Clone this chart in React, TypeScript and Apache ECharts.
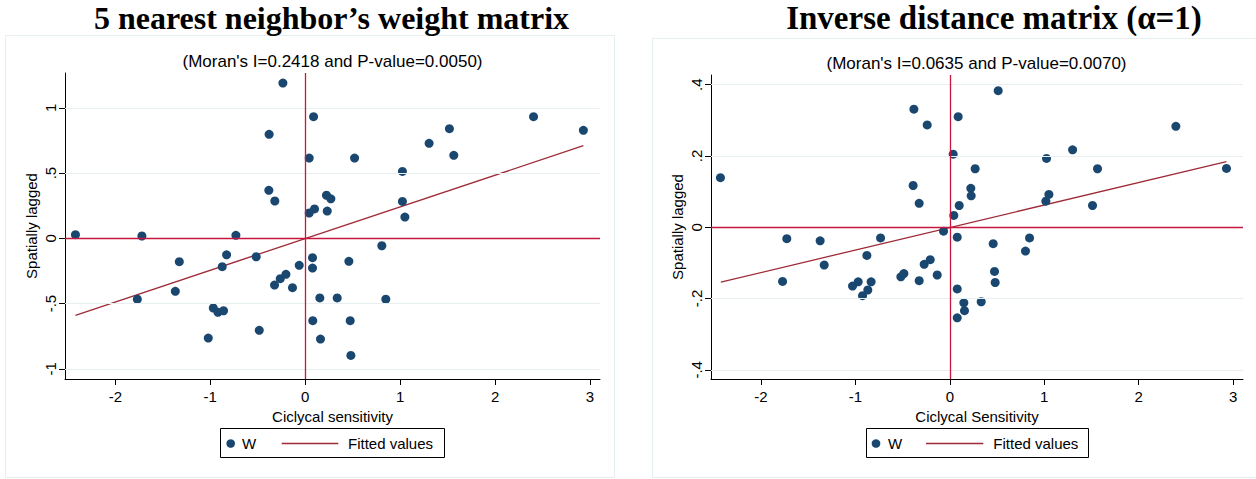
import React, { useEffect, useRef } from "react";
import * as echarts from "echarts";

// ---- data: 5 nearest neighbour weight matrix ----
const knnX = [-2.42, -1.72, -0.73, -0.38, -0.235, -0.383, -0.32, 0.042, 0.088, 0.042, 0.098, 0.52, 1.024, 1.305, 1.519, 1.565, 2.405, 2.93, 1.024, 1.05, 0.224, 0.27, 0.232, 0.807, -1.768, -1.326, -1.368, -0.828, -0.874, -0.968, -0.919, -0.86, -1.021, -0.516, -0.484, -0.323, -0.263, -0.203, -0.134, -0.063, 0.077, 0.077, 0.154, 0.337, 0.849, 0.08, 0.474, 0.161, 0.481, 0.46];
const knnY = [0.028, 0.018, 0.023, 0.797, 1.19, 0.368, 0.286, 0.615, 0.932, 0.194, 0.225, 0.615, 0.513, 0.728, 0.84, 0.636, 0.932, 0.828, 0.283, 0.163, 0.33, 0.303, 0.209, -0.057, -0.467, -0.179, -0.406, -0.126, -0.217, -0.534, -0.567, -0.555, -0.764, -0.141, -0.705, -0.358, -0.309, -0.276, -0.378, -0.207, -0.148, -0.228, -0.457, -0.457, -0.467, -0.631, -0.631, -0.772, -0.897, -0.176];
const knnFitX = [-2.42, 2.93];
const knnFitY = [-0.59, 0.71];

// ---- data: inverse distance matrix ----
const invX = [-2.43, -1.727, -1.374, -0.734, -0.381, -0.24, -0.389, -0.325, -0.067, 0.512, 0.088, 0.035, 0.268, 0.222, 0.226, 0.099, 0.042, 0.078, 1.024, 1.3, 1.564, 1.049, 1.017, 1.511, 2.394, 2.93, 0.459, 0.844, -1.772, -1.331, -0.879, -1.031, -0.971, -0.925, -0.869, -0.834, -0.519, -0.487, -0.325, -0.272, -0.208, -0.134, 0.801, 0.473, 0.48, 0.078, 0.148, 0.332, 0.155, 0.078];
const invY = [0.139, -0.032, -0.038, -0.03, 0.331, 0.287, 0.117, 0.067, -0.011, 0.383, 0.31, 0.205, 0.164, 0.109, 0.088, 0.061, 0.033, -0.028, 0.193, 0.217, 0.164, 0.092, 0.073, 0.061, 0.283, 0.165, -0.046, -0.03, -0.152, -0.106, -0.079, -0.165, -0.153, -0.192, -0.176, -0.153, -0.139, -0.13, -0.15, -0.104, -0.091, -0.134, -0.067, -0.124, -0.155, -0.173, -0.212, -0.209, -0.234, -0.254];
const invFitX = [-2.426, 2.93];
const invFitY = [-0.154, 0.184];

// ---- ticks & texts ----
const xTicks = [-2, -1, 0, 1, 2, 3];
const knnYTicks = [-1, -0.5, 0, 0.5, 1];
const knnYLabels = ["-1", "-.5", "0", ".5", "1"];
const invYTicks = [-0.4, -0.2, 0, 0.2, 0.4];
const invYLabels = ["-.4", "-.2", "0", ".2", ".4"];
const titles = ["5 nearest neighbor\u2019s weight matrix", "Inverse distance matrix (\u03b1=1)"];
const subtitles = ["(Moran's I=0.2418 and P-value=0.0050)", "(Moran's I=0.0635 and P-value=0.0070)"];
const xNames = ["Ciclycal sensitivity", "Ciclycal Sensitivity"];
const yName = "Spatially lagged";
const legendNames = ["W", "Fitted values"];

const SANS = "'Liberation Sans', Arial, sans-serif";
const SERIF = "'Liberation Serif', 'Times New Roman', serif";
const NAVY = "#1a476f";
const MAROON = "#9e2b37";
const RED = "#c8173f";
const GRIDC = "#e8eff1";
const PANEL = "#e6eef0";

const zip = (a: number[], b: number[]) => a.map((v, i) => [v, b[i]]);

function xAxisCfg(gridIndex: number, name: string) {
  return {
    type: "value",
    gridIndex,
    min: -2.53,
    max: 3.105,
    name,
    nameLocation: "middle",
    nameGap: 26,
    nameTextStyle: { fontFamily: SANS, fontSize: 15, color: "#000" },
    axisLine: { show: true, onZero: false, lineStyle: { color: "#000", width: 1 } },
    axisTick: { show: true, length: 6, customValues: xTicks, lineStyle: { color: "#000", width: 1 } },
    axisLabel: { customValues: xTicks, fontFamily: SANS, fontSize: 15, color: "#000", margin: 10 },
    splitLine: { show: false },
  };
}

function yAxisCfg(gridIndex: number, min: number, max: number, ticks: number[], labels: string[]) {
  return {
    type: "value",
    gridIndex,
    min,
    max,
    name: yName,
    nameLocation: "middle",
    nameGap: 26,
    nameRotate: 90,
    nameTextStyle: { fontFamily: SANS, fontSize: 15, color: "#000" },
    axisLine: { show: true, onZero: false, lineStyle: { color: "#000", width: 1 } },
    axisTick: { show: true, length: 6, customValues: ticks, lineStyle: { color: "#000", width: 1 } },
    axisLabel: {
      customValues: ticks,
      rotate: 90,
      margin: 7,
      fontFamily: SANS,
      fontSize: 15,
      color: "#000",
      formatter: (v: number) => {
        const i = ticks.findIndex((t) => Math.abs(t - v) < 1e-9);
        return i >= 0 ? labels[i] : String(v);
      },
    },
    splitLine: { show: false },
  };
}

function fitSeries(idx: number, fx: number[], fy: number[], gridTicks: number[]) {
  return {
    type: "line",
    xAxisIndex: idx,
    yAxisIndex: idx,
    data: zip(fx, fy),
    showSymbol: false,
    symbol: "none",
    z: 2,
    silent: true,
    lineStyle: { color: MAROON, width: 1.3 },
    markLine: {
      silent: true,
      symbol: ["none", "none"],
      label: { show: false },
      emphasis: { disabled: true },
      lineStyle: { type: "solid" },
      data: [
        ...gridTicks.filter((t) => t !== 0).map((t) => ({ yAxis: t, lineStyle: { color: GRIDC, width: 1, type: "solid" } })),
        { yAxis: 0, lineStyle: { color: RED, width: 1.3, type: "solid" } },
        { xAxis: 0, lineStyle: { color: RED, width: 1.3, type: "solid" } },
      ],
    },
  };
}

function scatterSeries(idx: number, xs: number[], ys: number[]) {
  return {
    type: "scatter",
    xAxisIndex: idx,
    yAxisIndex: idx,
    data: zip(xs, ys),
    symbolSize: 9,
    z: 3,
    itemStyle: { color: NAVY, opacity: 1 },
  };
}

function legendGraphic(bx: number, bw: number, markerX: number, wX: number, l1: number, l2: number, fX: number) {
  const cy = 443.5;
  return [
    { type: "rect", shape: { x: bx, y: 428.5, width: bw, height: 29 }, style: { fill: "#fff", stroke: "#000", lineWidth: 1 }, z: 10, silent: true },
    { type: "circle", shape: { cx: markerX, cy, r: 4.3 }, style: { fill: NAVY }, z: 11, silent: true },
    { type: "text", x: wX, y: cy, style: { text: legendNames[0], fontFamily: SANS, fontSize: 15, fill: "#000", align: "left", verticalAlign: "middle" }, z: 11, silent: true },
    { type: "line", shape: { x1: l1, y1: cy, x2: l2, y2: cy }, style: { stroke: MAROON, lineWidth: 1.3 }, z: 11, silent: true },
    { type: "text", x: fX, y: cy, style: { text: legendNames[1], fontFamily: SANS, fontSize: 15, fill: "#000", align: "left", verticalAlign: "middle" }, z: 11, silent: true },
  ];
}

export default function App() {
  const ref = useRef<HTMLDivElement>(null);
  useEffect(() => {
    document.body.style.margin = "0";
    if (!ref.current) return;
    const chart = echarts.init(ref.current, null, { renderer: "svg" });
    chart.setOption({
      animation: false,
      backgroundColor: "#ffffff",
      grid: [
        { left: 65, top: 73, width: 535, height: 306 },
        { left: 711, top: 75, width: 532, height: 304 },
      ],
      xAxis: [xAxisCfg(0, xNames[0]), xAxisCfg(1, xNames[1])],
      yAxis: [
        yAxisCfg(0, -1.078, 1.267, knnYTicks, knnYLabels),
        yAxisCfg(1, -0.4257, 0.427, invYTicks, invYLabels),
      ],
      series: [
        fitSeries(0, knnFitX, knnFitY, knnYTicks),
        scatterSeries(0, knnX, knnY),
        fitSeries(1, invFitX, invFitY, invYTicks),
        scatterSeries(1, invX, invY),
      ],
      graphic: [
        { type: "rect", shape: { x: 5.5, y: 35.5, width: 609, height: 442 }, style: { fill: "#fff", stroke: PANEL, lineWidth: 1 }, z: -10, silent: true },
        { type: "rect", shape: { x: 652.5, y: 38.5, width: 610, height: 439 }, style: { fill: "#fff", stroke: PANEL, lineWidth: 1 }, z: -10, silent: true },
        { type: "text", x: 331.5, y: 18, style: { text: titles[0], fontFamily: SERIF, fontSize: 32, fontWeight: "bold", fill: "#000", align: "center", verticalAlign: "middle" }, z: 5, silent: true },
        { type: "text", x: 994, y: 18, style: { text: titles[1], fontFamily: SERIF, fontSize: 33, fontWeight: "bold", fill: "#000", align: "center", verticalAlign: "middle" }, z: 5, silent: true },
        { type: "text", x: 332.5, y: 61, style: { text: subtitles[0], fontFamily: SANS, fontSize: 17, fill: "#000", align: "center", verticalAlign: "middle" }, z: 5, silent: true },
        { type: "text", x: 976.5, y: 63, style: { text: subtitles[1], fontFamily: SANS, fontSize: 17, fill: "#000", align: "center", verticalAlign: "middle" }, z: 5, silent: true },
        ...legendGraphic(220.5, 224, 230.7, 242, 281.7, 338.3, 348),
        ...legendGraphic(866.5, 222, 876, 888, 926, 983.3, 993.3),
      ],
    });
    return () => chart.dispose();
  }, []);
  return <div ref={ref} style={{ position: "absolute", left: 0, top: 0, width: 1256, height: 479 }} />;
}
